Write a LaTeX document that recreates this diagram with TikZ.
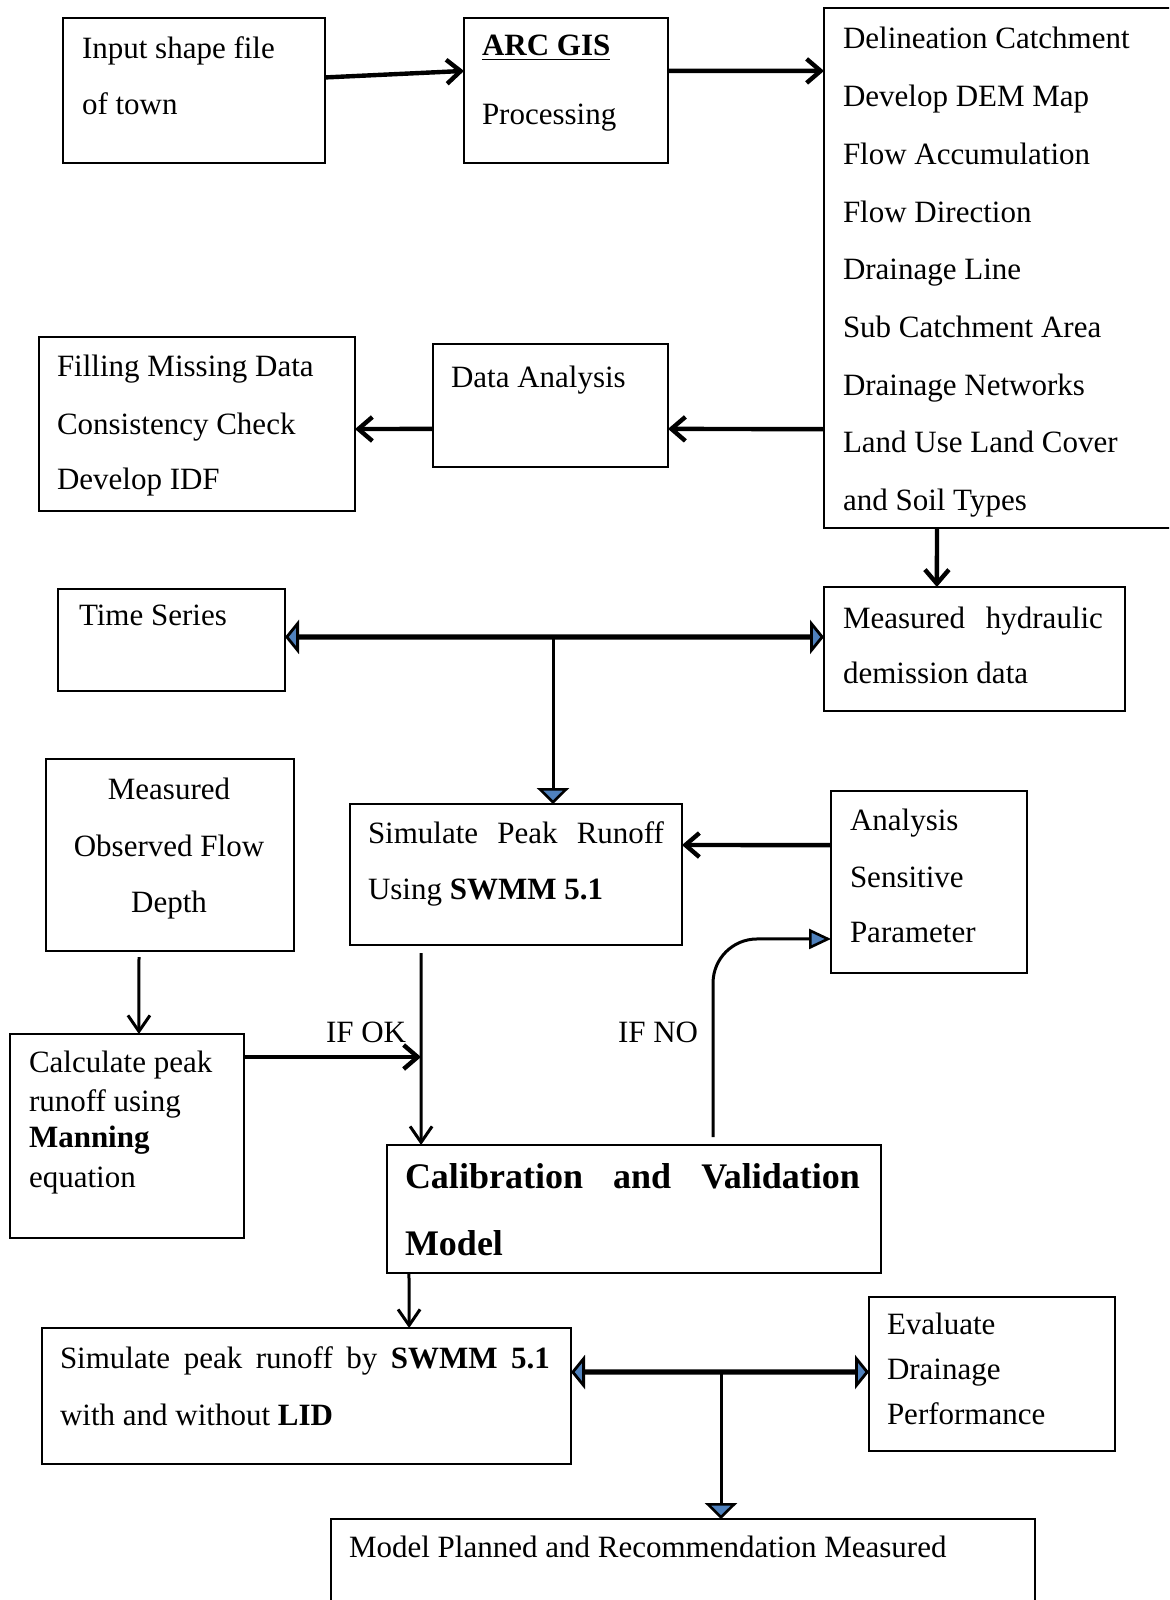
\documentclass[tikz,border=0pt]{standalone}
\usepackage{fontspec}
\setmainfont{Liberation Serif}
\usetikzlibrary{arrows.meta,calc}
\definecolor{tipblue}{RGB}{79,129,189}
\newcommand\mkbox[5]{\node[boxsty, minimum width={(#4-#2)*0.5pt}, minimum height={(#5-#3)*0.5pt}] (#1) at (#2,#3) {};}
\begin{document}
\begin{tikzpicture}[x=0.5pt,y=-0.5pt,
  boxsty/.style={draw, line width=1.1pt, inner sep=0pt, outer sep=0pt, anchor=north west},
  txt/.style={inner sep=0pt, outer sep=0pt, anchor=base west, font=\fontsize{15.5}{18}\selectfont},
  ctxt/.style={txt, anchor=base},
  calfont/.style={inner sep=0pt, outer sep=0pt, anchor=base west, font=\fontsize{18}{20}\selectfont\bfseries},
  thkarr/.style={line width=2.2pt, -{Straight Barb[length=7pt,width=12pt]}},
  thnarr/.style={line width=1.5pt, -{Straight Barb[length=8pt,width=11pt]}},
  dblarr/.style={line width=2.6pt, {Triangle[length=7pt,width=17pt,fill=tipblue,line width=1.4pt]}-{Triangle[length=7pt,width=17pt,fill=tipblue,line width=1.4pt]}},
  bluarr/.style={line width=1.5pt, -{Triangle[length=8pt,width=16pt,fill=tipblue,line width=1.3pt]}},
  curarr/.style={line width=1.5pt, rounded corners=22pt, -{Triangle[length=11pt,width=10pt,fill=tipblue,line width=1.3pt]}}]
\useasboundingbox (0,0) rectangle (1169,1600);
\fill[white] (0,0) rectangle (1169,1600);
\clip (0,0) rectangle (1169,1600);

% boxes
\mkbox{inp}{63}{18}{325}{163}
\mkbox{arc}{464}{18}{668}{163}
\mkbox{del}{824}{8}{1176}{528}
\mkbox{fil}{39}{337}{355}{511}
\mkbox{da}{433}{344}{668}{467}
\mkbox{ts}{58}{589}{285}{691}
\mkbox{mh}{824}{587}{1125}{711}
\mkbox{mofd}{46}{759}{294}{951}
\mkbox{sim}{350}{804}{682}{945}
\mkbox{an}{831}{791}{1027}{973}
\mkbox{calc}{10}{1034}{244}{1238}
\mkbox{cal}{387}{1145}{881}{1273}
\mkbox{sw}{42}{1328}{571}{1464}
\mkbox{ev}{869}{1297}{1115}{1451}
\mkbox{mp}{331}{1519}{1035}{1640}

% texts
\node[txt] (inp1) at (82,59) {Input shape file};
\node[txt] (inp2) at (82,114) {of town};
\node[txt] (arc1) at (482,56) {\underline{\textbf{ARC GIS}}};
\node[txt] (arc2) at (482,125) {Processing};
\foreach \t [count=\i] in {Delineation Catchment, Develop DEM Map, Flow Accumulation, Flow Direction, Drainage Line, Sub Catchment Area, Drainage Networks, Land Use Land Cover, and Soil Types}
  \node[txt] (del\i) at (843,{49+57.7*(\i-1)}) {\t};
\node[txt] (fil1) at (57,376) {Filling Missing Data};
\node[txt] (fil2) at (57,434) {Consistency Check};
\node[txt] (fil3) at (57,489) {Develop IDF};
\node[txt] (da1) at (451,387) {Data Analysis};
\node[txt] (ts1) at (79,625) {Time Series};
\node[txt] (mh1) at (843,628) {\makebox[130pt][s]{Measured hydraulic}};
\node[txt] (mh2) at (843,683) {demission data};
\node[ctxt] (mofd1) at (169,799) {Measured};
\node[ctxt] (mofd2) at (169,856) {Observed Flow};
\node[ctxt] (mofd3) at (169,912) {Depth};
\node[txt] (sim1) at (368,843) {\makebox[148pt][s]{Simulate Peak Runoff}};
\node[txt] (sim2) at (368,899) {Using \textbf{SWMM 5.1}};
\node[txt] (an1) at (850,830) {Analysis};
\node[txt] (an2) at (850,887) {Sensitive};
\node[txt] (an3) at (850,942) {Parameter};
\node[txt] (calc1) at (29,1072) {Calculate peak};
\node[txt] (calc2) at (29,1111) {runoff using};
\node[txt] (calc3) at (29,1147) {\textbf{Manning}};
\node[txt] (calc4) at (29,1187) {equation};
\node[txt] (ifok) at (326,1042) {IF OK};
\node[txt] (ifno) at (618,1042) {IF NO};
\node[calfont] (cal1) at (405,1188) {\makebox[227.5pt][s]{Calibration and Validation}};
\node[calfont] (cal2) at (405,1255) {Model};
\node[txt] (sw1) at (60,1368) {\makebox[245pt][s]{Simulate peak runoff by \textbf{SWMM 5.1}}};
\node[txt] (sw2) at (60,1425) {with and without \textbf{LID}};
\node[txt] (ev1) at (887,1334) {Evaluate};
\node[txt] (ev2) at (887,1379) {Drainage};
\node[txt] (ev3) at (887,1424) {Performance};
\node[txt] (mp1) at (349,1557) {Model Planned and Recommendation Measured};

% connectors
\draw[thkarr] ($(inp.north east)!0.41!(inp.south east)$) -- ($(arc.north west)!0.365!(arc.south west)$);
\draw[thkarr] ($(arc.north east)!0.365!(arc.south east)$) -- ($(del.north west)!0.121!(del.south west)$);
\draw[thkarr] ($(del.north west)!0.81!(del.south west)$) -- ($(da.north east)!0.69!(da.south east)$);
\draw[thkarr] ($(da.north west)!0.69!(da.south west)$) -- ($(fil.north east)!0.529!(fil.south east)$);
\draw[thkarr] ($(del.south west)!0.321!(del.south east)$) -- ($(mh.north west)!0.375!(mh.north east)$);
\draw[dblarr] ($(ts.north east)!0.47!(ts.south east)$) -- ($(mh.north west)!0.403!(mh.south west)$);
\coordinate (j1) at (553,637);
\draw[bluarr] (j1) -- (j1 |- sim.north);
\draw[thkarr] ($(an.north west)!0.297!(an.south west)$) -- ($(sim.north east)!0.291!(sim.south east)$);
\draw[thnarr] ($(mofd.south west)!0.375!(mofd.south east)+(0,6)$) -- ($(calc.north west)!0.551!(calc.north east)$);
\coordinate (okp) at (421,1057);
\draw[thkarr] (calc.east |- okp) -- (okp);
\draw[thnarr] ($(sim.south west)!0.214!(sim.south east)+(0,8)$) -- ($(cal.north west)!0.069!(cal.north east)$);
\draw[curarr] ($(cal.north west)!0.66!(cal.north east)+(0,-8)$) |- ($(an.north west)!0.813!(an.south west)$);
\draw[thnarr] ($(cal.south west)!0.0445!(cal.south east)$) -- ($(sw.north west)!0.694!(sw.north east)$);
\draw[dblarr] ($(sw.north east)!0.324!(sw.south east)$) -- ($(ev.north west)!0.487!(ev.south west)$);
\coordinate (j2) at (721,1372);
\draw[bluarr] (j2) -- (j2 |- mp.north);
\end{tikzpicture}
\end{document}
